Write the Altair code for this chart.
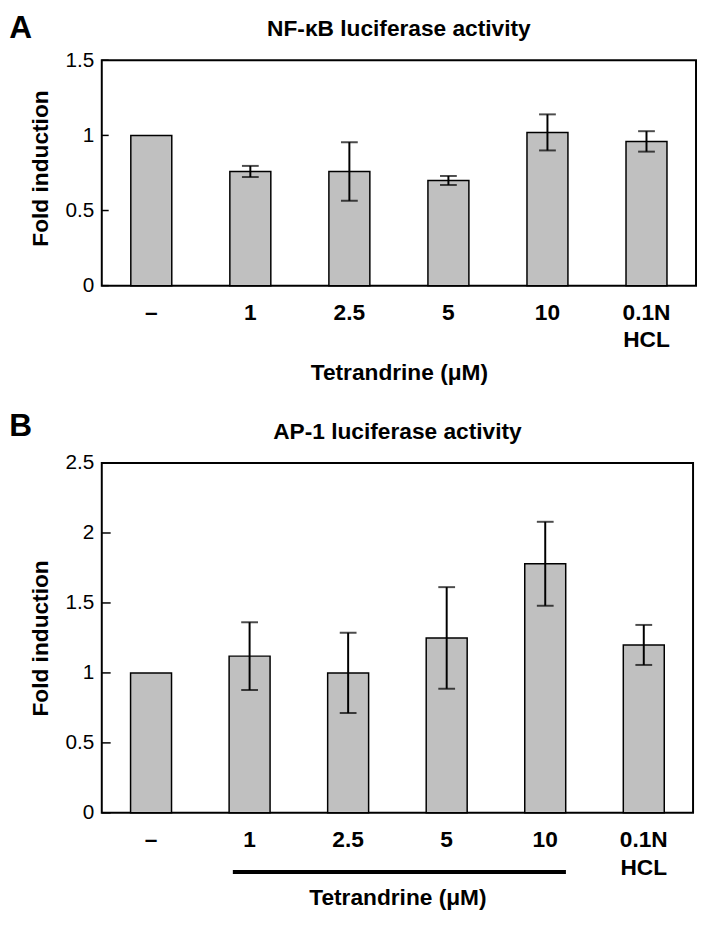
import altair as alt
import pandas as pd

categories = ["–", "1", "2.5", "5", "10", "0.1N HCL"]
nfkb_mean = [1.00, 0.76, 0.76, 0.70, 1.02, 0.96]
nfkb_err = [0.0, 0.037, 0.195, 0.030, 0.120, 0.068]
ap1_mean = [1.00, 1.12, 1.00, 1.25, 1.78, 1.20]
ap1_err = [0.0, 0.242, 0.287, 0.363, 0.300, 0.143]
nfkb_ticks = [0, 0.5, 1, 1.5]
ap1_ticks = [0, 0.5, 1, 1.5, 2, 2.5]
tetrandrine_span = ["1", "10"]

FONT = "Liberation Sans"


def panel(letter, title, means, errs, ticks, width, height, ticklen,
          xtitle_y, ytitle_shift, letter_y, title_y, underline):
    df = pd.DataFrame({"cat": categories, "mean": means, "err": errs})
    df["lo"] = df["mean"] - df["err"]
    df["hi"] = df["mean"] + df["err"]
    edf = df[df["err"] > 0].reset_index(drop=True)

    xscale = alt.Scale(domain=categories, paddingInner=0, paddingOuter=0)
    yscale = alt.Scale(domain=[0, max(ticks)], nice=False, zero=True)

    x_axis = alt.Axis(
        title="Tetrandrine (μM)", labelAngle=0, labelFontSize=23,
        labelFontWeight="bold", labelPadding=16,
        labelExpr="split(datum.label, ' ')", labelLineHeight=28,
        titleFontSize=23, titleFontWeight="bold", titleY=xtitle_y,
        titleBaseline="alphabetic", domain=False, ticks=False, tickSize=0,
    )
    y_axis = alt.Axis(
        values=ticks, format="~g", labelFontSize=21, labelPadding=8,
        title="Fold induction", titleFontSize=23, titleFontWeight="bold",
        titleX=-55, titleY=height / 2 + ytitle_shift,
        titleBaseline="alphabetic", domain=False, ticks=False,
        tickSize=0, grid=False,
    )

    def X(field="cat", **kw):
        return alt.X(f"{field}:N", sort=categories, scale=xscale, axis=x_axis, **kw)

    def Y(field):
        return alt.Y(f"{field}:Q", scale=yscale, axis=y_axis)

    bars = alt.Chart(df).mark_bar(
        size=41.5, fill="#c0c0c0", stroke="black", strokeWidth=1.5
    ).encode(x=X(), y=Y("mean"))

    err_rule = alt.Chart(edf).mark_rule(color="black", strokeWidth=2).encode(
        x=X(), y=Y("lo"), y2="hi:Q"
    )
    cap_lo = alt.Chart(edf).mark_tick(color="black", size=17, thickness=2).encode(
        x=X(), y=Y("lo")
    )
    cap_hi = alt.Chart(edf).mark_tick(color="black", size=17, thickness=2).encode(
        x=X(), y=Y("hi")
    )

    yticks = alt.Chart(pd.DataFrame({"v": ticks})).mark_rule(
        color="black", strokeWidth=1.5
    ).encode(y=Y("v"), x=alt.value(0), x2=alt.value(ticklen))

    letter_t = alt.Chart(pd.DataFrame({"t": [letter]})).mark_text(
        align="left", baseline="top", fontSize=32, fontWeight="bold",
        font=FONT, color="black"
    ).encode(text="t:N", x=alt.value(-93.7), y=alt.value(letter_y))

    title_t = alt.Chart(pd.DataFrame({"t": [title]})).mark_text(
        align="center", baseline="alphabetic", fontSize=23, fontWeight="bold",
        font=FONT, color="black"
    ).encode(text="t:N", x=alt.value(width / 2), y=alt.value(title_y))

    layers = [bars, err_rule, cap_lo, cap_hi, yticks, letter_t, title_t]

    if underline:
        span = pd.DataFrame({"cat": [tetrandrine_span[0]], "b": [tetrandrine_span[1]]})
        line = alt.Chart(span).mark_rule(color="black", strokeWidth=4).encode(
            x=X(bandPosition=0.33),
            x2=alt.X2("b", bandPosition=0.71),
            y=alt.value(height + 60),
        )
        layers.append(line)

    return alt.layer(*layers).properties(width=width, height=height)


panel_a = panel("A", "NF-κB luciferase activity", nfkb_mean, nfkb_err,
                nfkb_ticks, 602, 228.3, 7, 95, -5, -47.5, -25, False)
panel_b = panel("B", "AP-1 luciferase activity", ap1_mean, ap1_err,
                ap1_ticks, 599, 354.4, 9, 93, 0, -52, -24, True)

chart = alt.vconcat(panel_a, panel_b, spacing=179, bounds="flush").properties(
    padding={"left": 0, "top": -3, "right": 0, "bottom": 5},
    background="white",
).configure_view(
    stroke="black", strokeWidth=2
).configure_axis(
    labelFont=FONT, titleFont=FONT, labelColor="black", titleColor="black",
    grid=False,
)

chart.save("out.html", embed_options={"renderer": "svg", "actions": False})
